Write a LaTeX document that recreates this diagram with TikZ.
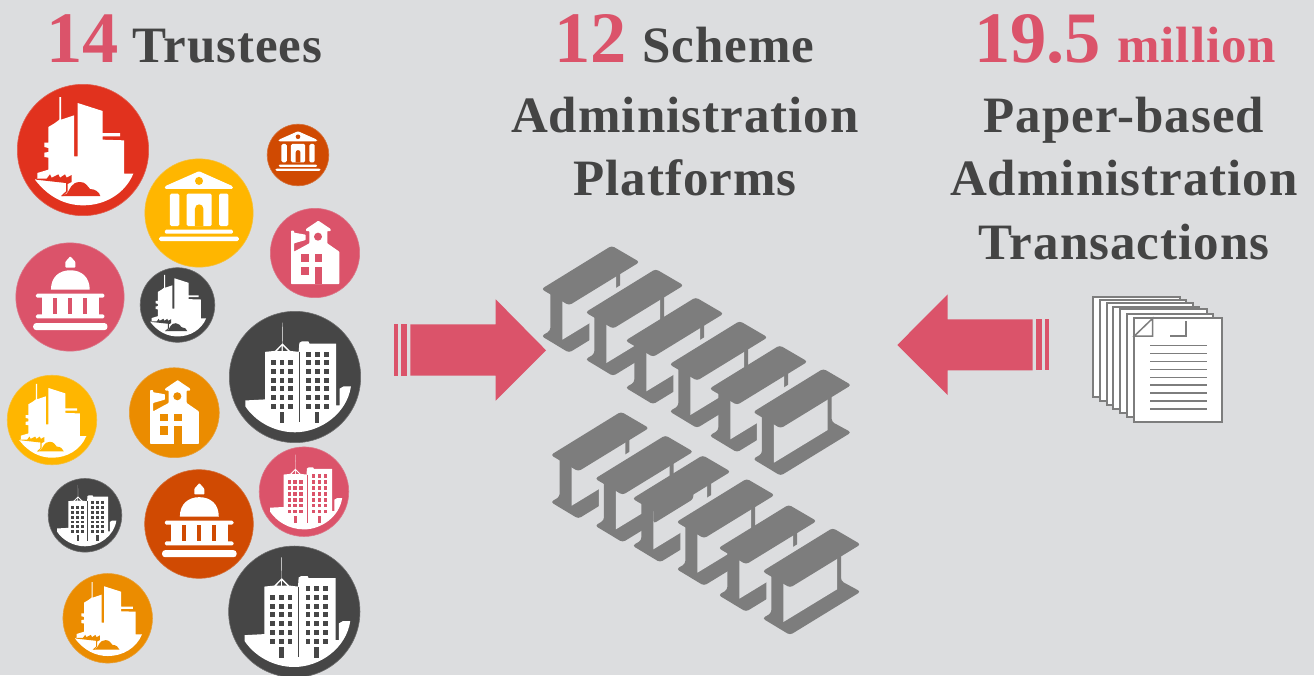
\documentclass[tikz,border=0pt]{standalone}
\usepackage{fontspec}
\setmainfont{Liberation Serif}
\newfontfamily\spacedserif[LetterSpace=2.0]{Liberation Serif}
\definecolor{bgc}{HTML}{DCDDDF}
\definecolor{cred}{HTML}{E1321E}
\definecolor{cyel}{HTML}{FFB600}
\definecolor{cdor}{HTML}{D04A02}
\definecolor{cpnk}{HTML}{DB536A}
\definecolor{cora}{HTML}{EB8C00}
\definecolor{cdrk}{HTML}{464646}
\definecolor{cbeam}{HTML}{7D7D7D}
\definecolor{ctxt}{HTML}{444444}
\tikzset{
  bigtxt/.style={anchor=base west,inner sep=0pt,text=cpnk,font=\bfseries\fontsize{72.5}{80}\selectfont},
  midtxt/.style={anchor=base west,inner sep=0pt,text=ctxt,font=\spacedserif\bfseries\fontsize{51}{60}\selectfont},
  midpink/.style={midtxt,text=cpnk},
  linetxt/.style={anchor=base,inner sep=0pt,text=ctxt,font=\spacedserif\bfseries\fontsize{51}{60}\selectfont},
  beamfill/.style={fill=cbeam,rounded corners=3pt},
  page/.style={fill=white,draw=cbeam,line width=1.7pt},
  pageline/.style={draw=cbeam,line width=1.5pt},
  disc/.style={fill=#1,draw=#1!75!bgc,line width=0.6pt}
}
\newcommand{\iconTower}[4]{%
\begin{scope}[shift={(#1,#2)},scale=#3/198,shift={(-249,-209)}]
\path[disc=#4] (249,209) circle (197);
\fill[white] (105,298) .. controls (145,350) and (195,375) .. (250,375) .. controls (315,375) and (375,340) .. (400,280)
 -- (372,280) -- (372,180) -- (308,178) -- (308,168) -- (360,168) -- (360,158) -- (308,158) -- (308,92) -- (233,68)
 -- (233,228) -- (222,228) -- (222,105) -- (183,118) -- (183,50) -- (178,50) -- (178,118) -- (165,128) -- (145,140)
 -- (145,187) -- (133,187) -- (133,200) -- (145,203) -- (145,215) -- (133,217) -- (133,230) -- (145,232) -- (145,268)
 -- (112,278) -- (112,295) -- cycle;
\fill[#4] (112,295) -- (140,295) -- (150,282) -- (155,292) -- (175,282) -- (180,292) -- (195,282) -- (200,292) -- (215,284)
 -- (215,305) -- (203,311) -- (203,333) -- (190,347) -- (183,347) -- (198,333) -- (198,308) -- (108,298) -- cycle;
\fill[#4] (185,347) -- (200,340) .. controls (210,330) and (212,305) .. (240,305) .. controls (258,305) and (262,318) .. (270,326) .. controls (285,326) and (298,335) .. (301,347) -- cycle;
\end{scope}}
\newcommand{\iconBank}[4]{%
\begin{scope}[shift={(#1,#2)},scale=#3/163,shift={(-597,-398)}]
\path[disc=#4] (597,398) circle (162);
\fill[white,rounded corners=1.2pt] (495,318) -- (597,273) -- (698,318) -- (698,326) -- (495,326) -- cycle;
\fill[#4] (597,302) circle (12);
\fill[white,rounded corners=1.5pt] (510,340) rectangle (538,437);
\fill[white,rounded corners=1.5pt] (657,340) rectangle (685,437);
\fill[white,rounded corners=1.5pt] (560,340) rectangle (635,437);
\fill[#4] (585,437) -- (585,385) .. controls (585,368) and (610,368) .. (610,385) -- (610,437) -- cycle;
\fill[white,rounded corners=1.2pt] (495,448) rectangle (698,460);
\fill[white,rounded corners=1.5pt] (478,469) rectangle (716,482);
\end{scope}}
\newcommand{\iconDome}[4]{%
\begin{scope}[shift={(#1,#2)},scale=#3/163,shift={(-210,-650)}]
\path[disc=#4] (210,650) circle (162);
\fill[white,rounded corners=0.8pt] (196,545) -- (211,528) -- (226,545) -- (226,562) -- (196,562) -- cycle;
\fill[white] (153,628) .. controls (153,590) and (178,570) .. (211,570) .. controls (244,570) and (269,590) .. (269,628) -- cycle;
\fill[white,rounded corners=1.5pt] (108,640) rectangle (313,652);
\fill[white] (126,650) rectangle (296,704);
\fill[#4] (159,652) rectangle (170,702);
\fill[#4] (205,652) rectangle (216,702);
\fill[#4] (250,652) rectangle (262,702);
\fill[white,rounded corners=1.5pt] (108,702) rectangle (313,714);
\fill[white,rounded corners=3pt] (100,728) rectangle (322,749);
\end{scope}}
\newcommand{\iconSchool}[4]{%
\begin{scope}[shift={(#1,#2)},scale=#3/135,shift={(-945,-519)}]
\path[disc=#4] (945,519) circle (134);
\fill[white,rounded corners=0.6pt] (873,612) -- (873,452) -- (882,452) -- (882,458) -- (917,464) -- (917,480) -- (882,490) -- (882,515)
 -- (928,490) -- (928,453) -- (918,453) -- (918,447) -- (955,422) -- (992,447) -- (992,453) -- (982,453) -- (982,490) -- (1018,515) -- (1018,612) -- cycle;
\fill[#4] (954,470) circle (12);
\fill[#4] (903,522) rectangle (926,545);
\fill[#4] (944,522) rectangle (967,545);
\fill[#4] (903,560) rectangle (926,585);
\fill[#4] (944,560) rectangle (967,613);
\end{scope}}
\newcommand{\iconCity}[4]{%
\begin{scope}[shift={(#1,#2)},scale=#3/197,shift={(-225,-230)}]
\path[disc=#4] (225,230) circle (196);
\fill[white] (77,300) -- (133,297) -- (136,297) -- (136,155) -- (165,152) -- (187,130) -- (186.4,68) -- (187.6,68) -- (188,130) -- (210,152) -- (236,155)
 -- (238,128) -- (245,124) -- (265,124) -- (268,130) -- (348,130) -- (348,315) -- (358,315) -- (358,265) -- (370,258) -- (392,258)
 .. controls (380,340) and (300,395) .. (225,395) .. controls (160,395) and (105,360) .. (77,318) -- cycle;
\draw[#4,line width=0.4pt] (237,155) -- (237,365);
\fill[#4] (172,152) -- (185,138) -- (185,152) -- cycle;
\fill[#4] (189,138) -- (203,152) -- (189,152) -- cycle;
\foreach \wx in {153,179,205} \foreach \wy in {180,206,232,258,284,310} \fill[#4] (\wx,\wy) rectangle ++(14,15);
\foreach \wx in {259,285,311} \foreach \wy in {154,180,206,232,258,284,310} \fill[#4] (\wx,\wy) rectangle ++(14,15);
\fill[#4] (180,335) rectangle (193,368);
\fill[#4] (285,335) rectangle (298,368);
\end{scope}}
\newcommand{\beamgap}[2]{%
\begin{scope}[shift={(#1,#2)},scale=1/3]
\fill[bgc] (-199,106) -- (0,-16) -- (90,40) -- (90,200) -- (-128,335) -- (-199,300) -- cycle;
\end{scope}}
\newcommand{\beamlow}[2]{%
\begin{scope}[shift={(#1,#2)},scale=1/3]
\fill[beamfill] (-184,120) -- (25,40) -- (25,159) -- (84,191) -- (-128,321) -- (-211,271) -- (-184,255) -- cycle;
\fill[bgc] (-148,150) -- (13,60) -- (13,184) -- (-148,282) -- cycle;
\end{scope}}
\newcommand{\beamtop}[2]{%
\begin{scope}[shift={(#1,#2)},scale=1/3]
\fill[beamfill] (0,0) -- (84,49) -- (-128,179) -- (-211,130) -- cycle;
\end{scope}}
\newcommand{\beamunit}[2]{\beamlow{#1}{#2}\beamtop{#1}{#2}}
\begin{document}
\begin{tikzpicture}[x=1pt,y=-1pt]
\useasboundingbox (0,0) rectangle (1314,675);
\fill[bgc] (0,0) rectangle (1314,675);
% icons
\iconTower{83}{150}{66}{cred}
\iconBank{199}{213}{54.5}{cyel}
\iconBank{298}{155}{31}{cdor}
\iconSchool{315}{253}{45}{cpnk}
\iconDome{70}{297}{54.5}{cpnk}
\iconTower{177.5}{305}{37.5}{cdrk}
\iconCity{295}{377}{66}{cdrk}
\iconTower{52}{420}{45}{cyel}
\iconSchool{174.3}{412.7}{45.3}{cora}
\iconCity{304}{491.7}{45}{cpnk}
\iconCity{85}{515.3}{37}{cdrk}
\iconDome{199}{524}{54.7}{cdor}
\iconCity{294.3}{611.7}{66}{cdrk}
\iconTower{107.7}{618.3}{45}{cora}
% arrows
\fill[cpnk] (410.3,324.3) -- (495.7,324.3) -- (495.7,299.3) -- (546,350.3) -- (495.7,400.7) -- (495.7,375.7) -- (410.3,375.7) -- cycle;
\fill[cpnk] (401,324.3) rectangle (407.3,375.7);
\fill[cpnk] (394.3,324.3) rectangle (397.7,375.7);
\fill[cpnk] (1032.7,319.3) -- (947.7,319.3) -- (947.7,294.3) -- (897.3,345) -- (947.7,395) -- (947.7,370.3) -- (1032.7,370.3) -- cycle;
\fill[cpnk] (1035.7,319.3) rectangle (1042.3,370.3);
\fill[cpnk] (1045.3,319.3) rectangle (1048.7,370.3);
% beams upper group
\beamunit{611.7}{245.7}
\beamgap{655.7}{269}
\beamunit{655.7}{269}
\beamunit{695.7}{297.3}
\beamgap{739.7}{321}
\beamunit{739.7}{321}
\beamunit{779.7}{345.3}
\beamgap{823.3}{368.7}
\beamunit{823.3}{368.7}
% beams lower group
\beamunit{621}{411.7}
\beamgap{665.3}{435.3}
\beamunit{665.3}{435.3}
\beamlow{702.7}{455.3}
\begin{scope}[shift={(702.7,455.3)},scale=1/3]
\fill[beamfill] (-148,150) -- (-28,80) -- (-28,131) -- (-148,205) -- cycle;
\end{scope}
\beamtop{702.7}{455.3}
\beamgap{746.7}{478.7}
\beamunit{746.7}{478.7}
\beamunit{788.7}{504.7}
\beamgap{832.7}{528}
\beamunit{832.7}{528}
% paper stack
\begin{scope}[shift={(1080,285)},scale=1/3]
\path[page] (38,35) rectangle (300,335);
\path[page] (60,45) rectangle (318,347);
\path[page] (80,55) rectangle (338,360);
\path[page] (100,65) rectangle (358,372);
\path[page] (120,73) rectangle (380,385);
\path[page] (142,87) rectangle (400,397);
\path[page] (163,100) rectangle (425,410);
\draw[pageline] (163,153) -- (218,100) -- (218,153) -- cycle;
\draw[pageline] (318,108) -- (318,153) -- (270,153);
\foreach \ly in {182,206,230,254,277,300,324,348,372} \draw[pageline] (210,\ly) -- (380,\ly);
\end{scope}
% text
\node[bigtxt] (n14) at (46,62.5) {14};
\node[midtxt] (trustees) at (132,62.5) {Trustees};
\node[bigtxt] (n12) at (554,62.5) {12};
\node[midtxt] (scheme) at (642,62.5) {Scheme};
\node[bigtxt] (n195) at (974,62.5) {19.5};
\node[midpink] (million) at (1117,62.5) {million};
\node[linetxt] (adm1) at (685,132) {Administration};
\node[linetxt] (plat) at (685,195.5) {Platforms};
\node[linetxt] (paper) at (1124,132) {Paper-based};
\node[linetxt] (adm2) at (1124,195.5) {Administration};
\node[linetxt] (trans) at (1124,259) {Transactions};
\end{tikzpicture}
\end{document}
